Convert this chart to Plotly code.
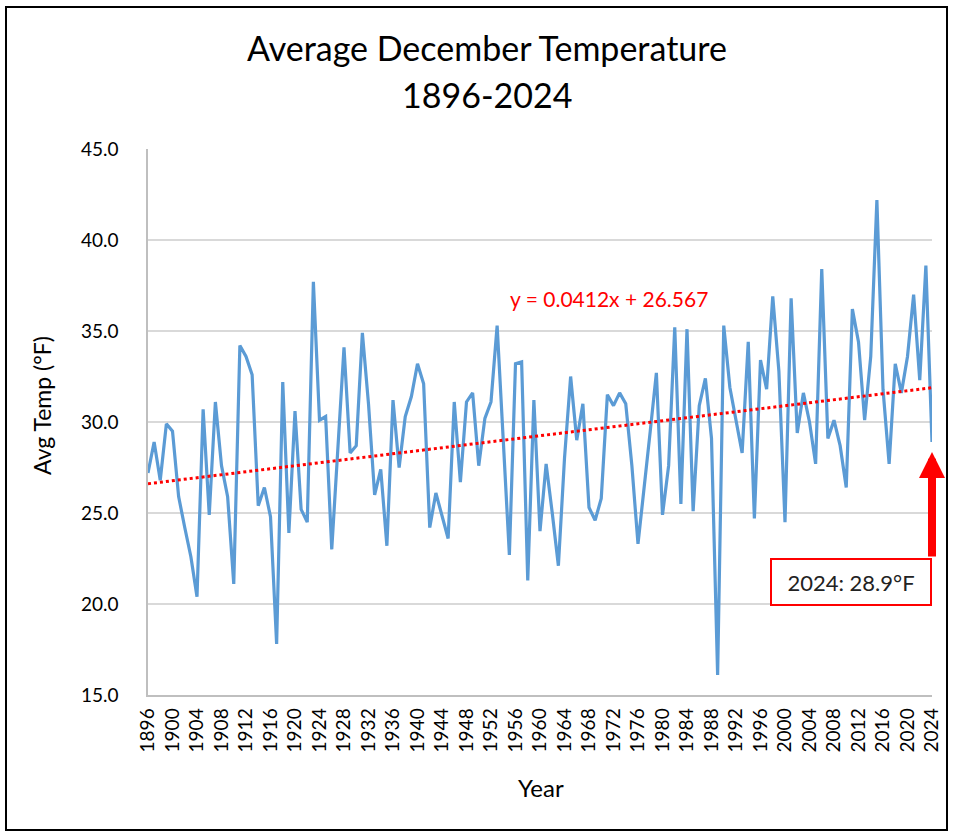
import plotly.graph_objects as go

years = list(range(1896, 2025))
temps = [
    27.2, 28.9, 26.8, 29.9, 29.5, 25.9, 24.2, 22.6, 20.4, 30.7,
    24.9, 31.1, 27.6, 25.9, 21.1, 34.2, 33.6, 32.6, 25.4, 26.4,
    24.8, 17.8, 32.2, 23.9, 30.6, 25.2, 24.5, 37.7, 30.1, 30.3,
    23.0, 28.5, 34.1, 28.3, 28.7, 34.9, 31.0, 26.0, 27.4, 23.2,
    31.2, 27.5, 30.3, 31.4, 33.2, 32.1, 24.2, 26.1, 24.8, 23.6,
    31.1, 26.7, 31.1, 31.6, 27.6, 30.2, 31.1, 35.3, 29.0, 22.7,
    33.2, 33.3, 21.3, 31.2, 24.0, 27.7, 25.0, 22.1, 28.0, 32.5,
    29.0, 31.0, 25.3, 24.6, 25.8, 31.5, 30.9, 31.6, 31.0, 27.6,
    23.3, 26.3, 29.5, 32.7, 24.9, 27.6, 35.2, 25.5, 35.1, 25.1,
    30.9, 32.4, 29.1, 16.1, 35.3, 31.9, 30.0, 28.3, 34.4, 24.7,
    33.4, 31.8, 36.9, 32.8, 24.5, 36.8, 29.4, 31.6, 30.0, 27.7,
    38.4, 29.1, 30.1, 28.7, 26.4, 36.2, 34.4, 30.1, 33.6, 42.2,
    31.8, 27.7, 33.2, 31.6, 33.6, 37.0, 32.3, 38.6, 28.9,
]
tick_years = list(range(1896, 2025, 4))
y_ticks = [15, 20, 25, 30, 35, 40, 45]

# Trendline as displayed (x = 1..N index)
slope = 0.0412
intercept = 26.567
trend = [slope * (i + 1) + intercept for i in range(len(years))]

title_line1 = "Average December Temperature"
title_line2 = "1896-2024"
eq_text = "y = 0.0412x + 26.567"
label_text = "2024: 28.9°F"

FONT = "Lato"
W, H = 953, 834
L, R, T, B = 148, 21, 149, 139
pw = W - L - R
ph = H - T - B

def px(xp):
    return (xp - L) / pw

def py(yp):
    return (H - B - yp) / ph

fig = go.Figure()
fig.add_trace(go.Scatter(x=years, y=temps, mode="lines",
                         line=dict(color="#5b9bd5", width=3.2), showlegend=False))
fig.add_trace(go.Scatter(x=years, y=trend, mode="lines",
                         line=dict(color="#ff0000", width=3, dash="dot"), showlegend=False))

fig.update_layout(
    width=W, height=H,
    margin=dict(l=L, r=R, t=T, b=B),
    paper_bgcolor="white", plot_bgcolor="white",
    font=dict(family=FONT, color="#000000"),
    xaxis=dict(range=[1896, 2024], tickmode="array", tickvals=tick_years,
               ticktext=[str(v) for v in tick_years], tickangle=-90,
               tickfont=dict(family=FONT, size=19, color="#000000"),
               showgrid=False, zeroline=False, showline=True,
               linecolor="#bfbfbf", linewidth=1.5,
               ticks="outside", ticklen=4, tickcolor="white"),
    yaxis=dict(range=[15, 45], tickmode="array", tickvals=y_ticks,
               ticktext=[f"{v:.1f}" for v in y_ticks],
               tickfont=dict(family=FONT, size=19, color="#000000"),
               showgrid=True, gridcolor="#d9d9d9", gridwidth=1.5,
               zeroline=False, showline=True, linecolor="#bfbfbf", linewidth=1.5,
               ticks="outside", ticklen=24, tickcolor="white"),
)

fig.add_annotation(text=title_line1, xref="paper", yref="paper",
                   x=px(487), y=py(47), xanchor="center", yanchor="middle",
                   showarrow=False, font=dict(family=FONT, size=34, color="#000000"))
fig.add_annotation(text=title_line2, xref="paper", yref="paper",
                   x=px(487), y=py(95), xanchor="center", yanchor="middle",
                   showarrow=False, font=dict(family=FONT, size=34, color="#000000"))
fig.add_annotation(text="Avg Temp (°F)", xref="paper", yref="paper",
                   x=px(42), y=py(405), xanchor="center", yanchor="middle",
                   textangle=-90, showarrow=False,
                   font=dict(family=FONT, size=23, color="#000000"))
fig.add_annotation(text="Year", xref="paper", yref="paper",
                   x=px(541), y=py(787), xanchor="center", yanchor="middle",
                   showarrow=False, font=dict(family=FONT, size=24, color="#000000"))
fig.add_annotation(text=eq_text, xref="paper", yref="paper",
                   x=px(609), y=py(298), xanchor="center", yanchor="middle",
                   showarrow=False, font=dict(family=FONT, size=21, color="#ff0000"))

# arrow pointing to the last point
fig.add_annotation(x=years[-1], y=28.35, xref="x", yref="y",
                   text="", showarrow=True, ax=0, ay=106,
                   arrowhead=2, arrowsize=0.65, arrowwidth=8, arrowcolor="#ff0000",
                   standoff=0, startstandoff=0)
# label box
fig.add_annotation(text=label_text, xref="paper", yref="paper",
                   x=px(851), y=py(582), xanchor="center", yanchor="middle",
                   showarrow=False, width=158, height=44, bgcolor="white",
                   bordercolor="#ff0000", borderwidth=2, borderpad=0,
                   font=dict(family=FONT, size=22, color="#222222"))

# outer border
fig.add_shape(type="rect", xref="paper", yref="paper",
              x0=px(6), x1=px(947), y0=py(830), y1=py(7),
              line=dict(color="#000000", width=2), fillcolor="rgba(0,0,0,0)")

fig.write_html("out.html", config={"displayModeBar": False},
               post_script="document.body.style.margin='0';")
